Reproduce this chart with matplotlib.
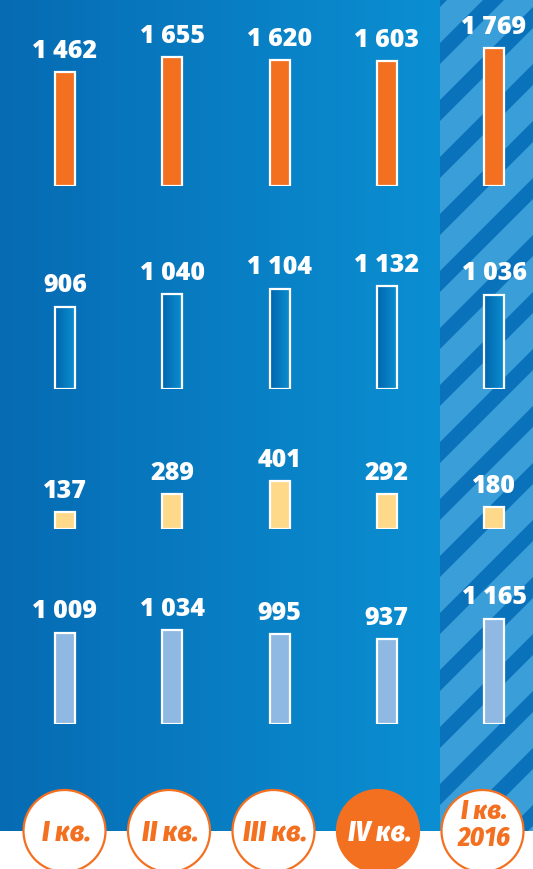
import numpy as np
import matplotlib
matplotlib.use('Agg')
import matplotlib.pyplot as plt
from matplotlib.patches import Rectangle, Circle, Polygon
from matplotlib.colors import LinearSegmentedColormap

# ---------------- data ----------------
quarters = ['I кв.', 'II кв.', 'III кв.', 'IV кв.', 'I кв.\n2016']
row1_orange = [1462, 1655, 1620, 1603, 1769]
row2_outline = [906, 1040, 1104, 1132, 1036]
row3_yellow = [137, 289, 401, 292, 180]
row4_lightblue = [1009, 1034, 995, 937, 1165]
highlight = 3

# ---------------- layout ----------------
W, H = 533, 870
fig = plt.figure(figsize=(W / 100, H / 100), dpi=100)

ORANGE = '#f37021'
NUM_FONT = ['Open Sans', 'DejaVu Sans']
CAT_FONT = ['Fira Sans Condensed', 'Open Sans', 'DejaVu Sans']

bg = fig.add_axes([0, 0, 1, 1])
bg.set_xlim(0, W)
bg.set_ylim(H, 0)
bg.axis('off')

WHITE_Y = 832
STRIPE_X = 440
grad = np.linspace(0, 1, 256).reshape(1, -1)
cmap = LinearSegmentedColormap.from_list('bg', ['#066bb3', '#0b8fd2'])
bg.imshow(grad, cmap=cmap, extent=[0, STRIPE_X, WHITE_Y, 0], aspect='auto', zorder=0)
bg.add_patch(Rectangle((STRIPE_X, 0), W - STRIPE_X, WHITE_Y, facecolor='#3a9ed8',
                       edgecolor='none', zorder=0.5))
clip = Rectangle((STRIPE_X, 0), W - STRIPE_X, WHITE_Y, transform=bg.transData,
                 facecolor='none', edgecolor='none')
P, D = 57, 21
c0 = 883 % P
for c in range(c0 - P, W + WHITE_Y + P, P):
    poly = Polygon([(c + 100, -100), (c + D + 100, -100), (c + D - 1000, 1000), (c - 1000, 1000)],
                   closed=True, facecolor='#0a72bb', edgecolor='none', zorder=0.6)
    bg.add_patch(poly)
    poly.set_clip_path(clip)
bg.add_patch(Rectangle((0, WHITE_Y), W, H - WHITE_Y, facecolor='white', edgecolor='none', zorder=0.7))
bg.set_xlim(0, W)
bg.set_ylim(H, 0)

# ---------------- bar rows ----------------
X0, DX = 65, 107.25
xlim = (-X0 / DX, (W - X0) / DX)
BW = 20 / DX
idx = np.arange(len(quarters))


def fmt(v):
    return f"{v:,}".replace(',', ' ')


def row_axes(bottom_px, scale, vmax=2000):
    h = scale * vmax
    ax = fig.add_axes([0, 1 - bottom_px / H, 1, h / H])
    ax.axis('off')
    ax.patch.set_alpha(0)
    return ax


def draw_row(ax, vals, face, vmax=2000, gradient=False):
    bars = ax.bar(idx, vals, width=BW, color=face if not gradient else 'none',
                  edgecolor='white', linewidth=1.6, zorder=3)
    if gradient:
        g = np.linspace(0, 1, 64).reshape(1, -1)
        gc = LinearSegmentedColormap.from_list('bar', ['#0066ae', '#0c8ed0'])
        for b in bars:
            im = ax.imshow(g, cmap=gc, extent=[b.get_x(), b.get_x() + b.get_width(), 0, b.get_height()],
                           aspect='auto', zorder=2)
            im.set_clip_path(b)
    for i, v in zip(idx, vals):
        ax.annotate(fmt(v), (i, v), xytext=(0, 11), textcoords='offset points',
                    ha='center', va='baseline', color='white', fontsize=18,
                    fontweight=800, family=NUM_FONT)
    ax.set_xlim(*xlim)
    ax.set_ylim(0, vmax)


ax1 = row_axes(186.5, 0.0775)
draw_row(ax1, row1_orange, ORANGE)
ax2 = row_axes(389.5, 0.0905)
draw_row(ax2, row2_outline, None, gradient=True)
ax3 = row_axes(529.5, 0.118, vmax=1000)
draw_row(ax3, row3_yellow, '#ffd98a', vmax=1000)
ax4 = row_axes(724.5, 0.09)
draw_row(ax4, row4_lightblue, '#8fb9e2')

# ---------------- quarter circles ----------------
CX0, CDX, CY, R = 64.5, 104.5, 832, 41
for i, q in enumerate(quarters):
    cx = CX0 + CDX * i
    hl = (i == highlight)
    bg.add_patch(Circle((cx, CY), R, facecolor=ORANGE if hl else 'white',
                        edgecolor=ORANGE, linewidth=1.6, zorder=5))
    two = '\n' in q
    ty = CY - 7 if two else CY + 1
    bg.text(cx + 1.5, ty, q, ha='center', va='center', color='white' if hl else ORANGE,
            fontsize=19.5 if two else 20.5, fontweight=800, fontstyle='italic', family=CAT_FONT,
            linespacing=1.05, zorder=6)

fig.savefig('out.png', dpi=100)
